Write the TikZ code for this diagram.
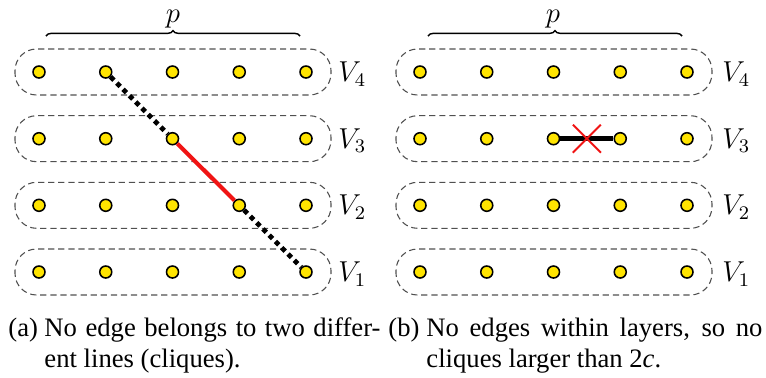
\documentclass[tikz,border=0pt]{standalone}
\usepackage[no-math]{fontspec}
\setmainfont{Liberation Serif}
\usetikzlibrary{decorations.pathreplacing,calc}
\definecolor{dotyellow}{RGB}{255,228,0}
\definecolor{boxgray}{RGB}{80,80,80}
\definecolor{edgered}{RGB}{240,20,20}
\begin{document}
\begin{tikzpicture}[x=0.41667pt,y=-0.41667pt,
  vdot/.style={circle,draw=black,line width=0.65pt,fill=dotyellow,inner sep=0pt,minimum size=5pt},
  layerbox/.style={draw=boxgray,line width=0.45pt,dash pattern=on 2.6pt off 1.6pt,rounded corners=9pt},
  dotedge/.style={line width=2pt,dash pattern=on 2pt off 1.7pt},
  rededge/.style={draw=edgered,line width=1.7pt},
  blkedge/.style={line width=2.1pt},
  redx/.style={draw=edgered,line width=0.8pt},
  bracestyle/.style={decorate,decoration={brace,amplitude=2.2pt},line width=0.6pt},
  lab/.style={inner sep=0pt,font=\fontsize{11.5}{13}\selectfont},
  captxt/.style={inner sep=0pt,anchor=base west,font=\rmfamily\fontsize{11.1}{13.1}\selectfont}]
\useasboundingbox (0,0) rectangle (766,377);
% layer boxes and labels
\foreach \r/\y in {4/72,3/138.7,2/205.3,1/272}{
  \draw[layerbox] (15,\y-23) rectangle (331,\y+23);
  \draw[layerbox] (396,\y-23) rectangle (712,\y+23);
  \node[lab,anchor=west] (VL\r) at (338,\y+2) {$V_{\r}$};
  \node[lab,anchor=west] (VR\r) at (722,\y+2) {$V_{\r}$};
}
% dots
\foreach \r/\y in {4/72,3/138.7,2/205.3,1/272}{
  \foreach \c in {1,...,5}{
    \node[vdot] (L-\r-\c) at ({39+66.75*(\c-1)},\y) {};
    \node[vdot] (R-\r-\c) at ({420+66.75*(\c-1)},\y) {};
  }
}
% edges left
\draw[dotedge] (L-4-2) -- (L-3-3);
\draw[rededge] (L-3-3) -- (L-2-4);
\draw[dotedge] (L-2-4) -- (L-1-5);
% edge right with cross
\draw[blkedge] (R-3-3) -- (R-3-4);
\path (R-3-3) -- (R-3-4) coordinate[midway] (xc);
\draw[redx] ($(xc)+(-14,-14)$) -- ($(xc)+(14,14)$);
\draw[redx] ($(xc)+(-14,14)$) -- ($(xc)+(14,-14)$);
% braces
\coordinate (bLa) at (46,36);
\coordinate (bLb) at (300,36);
\coordinate (bRa) at (428,36);
\coordinate (bRb) at (682,36);
\draw[bracestyle] (bLa) -- (bLb);
\draw[bracestyle] (bRa) -- (bRb);
\node[lab,anchor=base] (pL) at (173,22) {$p$};
\node[lab,anchor=base] (pR) at (553,22) {$p$};
% captions
\node[captxt] (capa) at (8,336) {(a)};
\node[captxt,text width=140pt,align=justify] (capat) at (44,336) {No edge belongs to two differ-\linebreak ent lines (cliques).};
\node[captxt] (capb) at (388,336) {(b)};
\node[captxt,text width=140pt,align=justify] (capbt) at (426,336) {No edges within layers, so no\linebreak cliques larger than 2\textit{c}.};
\end{tikzpicture}
\end{document}
